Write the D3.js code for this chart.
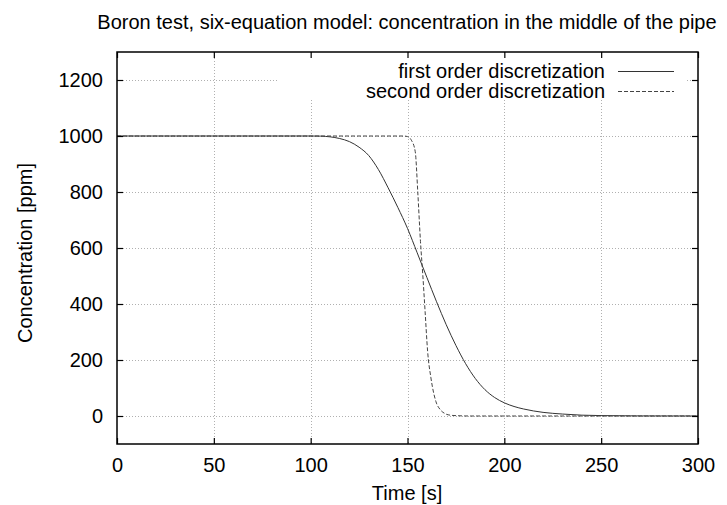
<!DOCTYPE html>
<html>
<head>
<meta charset="utf-8">
<script src="https://cdn.jsdelivr.net/npm/d3@7"></script>
<style>
  body { margin: 0; background: #fff; }
  text { font-family: "Liberation Sans", Arial, Helvetica, sans-serif; fill: #000; }
</style>
</head>
<body>
<div class="graph"></div>
<script>
// data
let firstT = [0, 100, 105, 110, 115, 120, 125, 130, 135, 140, 145, 150, 155, 160, 165, 170, 175, 180, 185, 190, 195, 200, 205, 210, 220, 230, 240, 250, 270, 300];
let firstC = [1000, 1000, 999.5, 997, 991, 980, 960, 930, 880, 815, 745, 670, 583, 495, 408, 326, 252, 187, 134, 94, 66, 47, 34, 25, 13, 7, 3, 1.5, 0.3, 0];

let secondT = [0, 148, 150, 152, 154, 155.3, 156.7, 157.9, 159.1, 160.4, 162.1, 164.7, 167, 169, 172, 176, 182, 300];
let secondC = [1000, 1000, 998, 985, 944, 801, 623, 504, 372, 230, 136, 51, 22, 10, 3, 1, 0, 0];

let xTicks = [0, 50, 100, 150, 200, 250, 300];
let yTicks = [0, 200, 400, 600, 800, 1000, 1200];

let seriesNames = ["first order discretization", "second order discretization"];

function drawChart() {
    let w = 727;
    let h = 505;
    let m = {left: 117, right: 698, top: 52, bottom: 444};
    let fs = "20px";

    let svg = d3.select(".graph")
        .append("svg")
        .attr("width", w)
        .attr("height", h);

    let x = d3.scaleLinear().domain([0, 300]).range([m.left, m.right]);
    let y = d3.scaleLinear().domain([-100, 1300]).range([m.bottom, m.top]);

    // grid
    let grid = svg.append("g").attr("stroke", "#b0b0b0").attr("stroke-width", 1)
        .attr("stroke-dasharray", "1,2");
    grid.selectAll(".gx").data(xTicks.slice(1, -1)).enter().append("line")
        .attr("x1", d => Math.round(x(d)) + 0.5).attr("x2", d => Math.round(x(d)) + 0.5)
        .attr("y1", m.top).attr("y2", m.bottom);
    grid.selectAll(".gy").data(yTicks).enter().append("line")
        .attr("y1", d => Math.round(y(d)) + 0.5).attr("y2", d => Math.round(y(d)) + 0.5)
        .attr("x1", m.left).attr("x2", m.right);

    // legend background hides the grid
    svg.append("rect")
        .attr("x", 278).attr("y", m.top + 1)
        .attr("width", 407).attr("height", 100 - m.top - 1)
        .attr("fill", "#fff");

    // curves
    let line = d3.line()
        .x(d => x(d[0]))
        .y(d => y(d[1]))
        .curve(d3.curveMonotoneX);

    let first = firstT.map((t, i) => [t, firstC[i]]);
    let second = secondT.map((t, i) => [t, secondC[i]]);

    svg.append("path").datum(first)
        .attr("d", line)
        .attr("fill", "none")
        .attr("stroke", "#333")
        .attr("stroke-width", 1);

    svg.append("path").datum(second)
        .attr("d", line)
        .attr("fill", "none")
        .attr("stroke", "#444")
        .attr("stroke-width", 1)
        .attr("stroke-dasharray", "4,2");

    // border
    svg.append("rect")
        .attr("x", m.left).attr("y", m.top)
        .attr("width", m.right - m.left).attr("height", m.bottom - m.top)
        .attr("fill", "none").attr("stroke", "#000").attr("stroke-width", 1.5);

    // axes with mirrored inner ticks
    let fmt = d3.format("d");
    let axB = svg.append("g").attr("transform", "translate(0," + m.bottom + ")")
        .call(d3.axisBottom(x).tickValues(xTicks).tickFormat(fmt).tickSizeInner(-6).tickSizeOuter(0));
    let axT = svg.append("g").attr("transform", "translate(0," + m.top + ")")
        .call(d3.axisTop(x).tickValues(xTicks).tickSizeInner(-6).tickSizeOuter(0).tickFormat(""));
    let axL = svg.append("g").attr("transform", "translate(" + m.left + ",0)")
        .call(d3.axisLeft(y).tickValues(yTicks).tickFormat(fmt).tickSizeInner(-6).tickSizeOuter(0));
    let axR = svg.append("g").attr("transform", "translate(" + m.right + ",0)")
        .call(d3.axisRight(y).tickValues(yTicks).tickSizeInner(-6).tickSizeOuter(0).tickFormat(""));

    [axB, axT, axL, axR].forEach(a => {
        a.select(".domain").remove();
        a.selectAll(".tick line").attr("stroke", "#000").attr("stroke-width", 1.2);
        a.selectAll("text").attr("font-size", fs)
            .attr("font-family", "Liberation Sans, Arial, sans-serif").attr("fill", "#000");
    });
    axB.selectAll("text").attr("dy", "0.71em").attr("y", 14);
    axL.selectAll("text").attr("x", -14);

    // legend
    let leg = svg.append("g");
    seriesNames.forEach((name, i) => {
        let ly = 71 + i * 20;
        leg.append("text")
            .attr("x", 605).attr("y", ly).attr("dy", "0.35em")
            .attr("text-anchor", "end")
            .attr("font-size", fs)
            .text(name);
        leg.append("line")
            .attr("x1", 618).attr("x2", 674)
            .attr("y1", ly + 0.5).attr("y2", ly + 0.5)
            .attr("stroke", i == 0 ? "#333" : "#444")
            .attr("stroke-width", 1)
            .attr("stroke-dasharray", i == 0 ? null : "4,2");
    });

    // titles
    svg.append("text")
        .attr("x", 407).attr("y", 29)
        .attr("text-anchor", "middle")
        .attr("font-size", fs)
        .text("Boron test, six-equation model: concentration in the middle of the pipe");

    svg.append("text")
        .attr("x", 407).attr("y", 500)
        .attr("text-anchor", "middle")
        .attr("font-size", fs)
        .text("Time [s]");

    svg.append("text")
        .attr("transform", "translate(32,253) rotate(-90)")
        .attr("text-anchor", "middle")
        .attr("font-size", fs)
        .text("Concentration [ppm]");
}

drawChart();
</script>
</body>
</html>
